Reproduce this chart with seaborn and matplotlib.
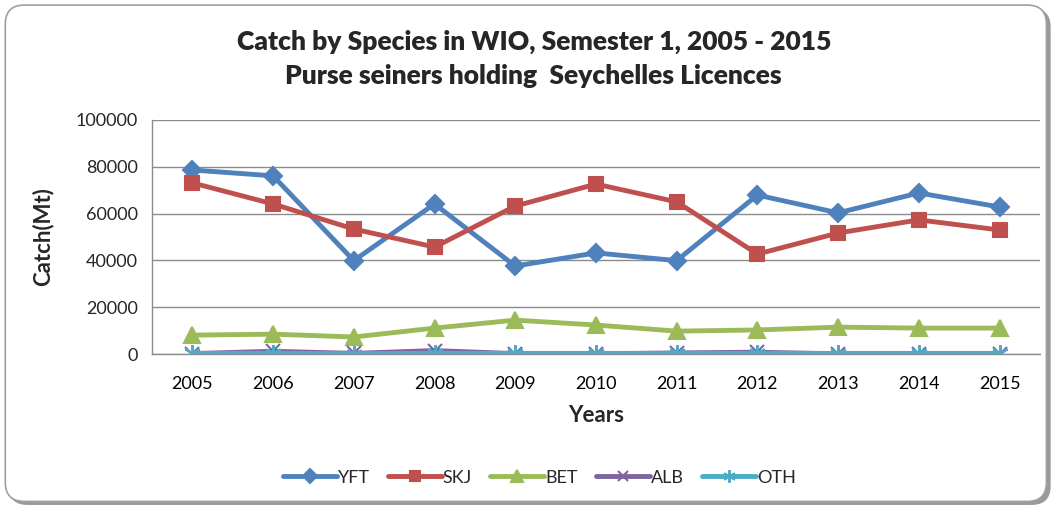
import numpy as np
import pandas as pd
import matplotlib
matplotlib.use("Agg")
import matplotlib.pyplot as plt
import seaborn as sns
from matplotlib.patches import FancyBboxPatch
from matplotlib.ticker import FixedLocator, NullFormatter

years = ["2005", "2006", "2007", "2008", "2009", "2010", "2011", "2012", "2013", "2014", "2015"]
yft = [78600, 76100, 39900, 64100, 37600, 43200, 39900, 67900, 60300, 68800, 62800]
skj = [73100, 64100, 53400, 45700, 63200, 72600, 65000, 42700, 51700, 57300, 53000]
bet = [8100, 8500, 7300, 11100, 14500, 12400, 9800, 10300, 11500, 11100, 11100]
alb = [200, 1200, 300, 1500, 200, 100, 500, 800, 100, 100, 100]
oth = [300, 300, 200, 300, 300, 300, 300, 300, 300, 300, 300]
species = ["YFT", "SKJ", "BET", "ALB", "OTH"]

sns.set_style("white")
plt.rcParams['font.family'] = ['Lato', 'DejaVu Sans']

palette = {"YFT": "#4F81BD", "SKJ": "#C0504D", "BET": "#9BBB59", "ALB": "#8064A2", "OTH": "#4BACC6"}
markers = {"YFT": "D", "SKJ": "s", "BET": "^", "ALB": "x", "OTH": (6, 2, 0)}
msizes = {"YFT": 9, "SKJ": 10, "BET": 11, "ALB": 10, "OTH": 12}

fig = plt.figure(figsize=(10.57, 5.08), dpi=100)
shadow = FancyBboxPatch((0.008, 0.006), 0.986, 0.978, boxstyle="round,pad=0,rounding_size=0.018",
                        transform=fig.transFigure, facecolor="#9a9a9a", edgecolor="none",
                        zorder=-11, mutation_aspect=1057/508)
frame = FancyBboxPatch((0.005, 0.013), 0.985, 0.977, boxstyle="round,pad=0,rounding_size=0.018",
                       transform=fig.transFigure, facecolor="white", edgecolor="#a0a0a0",
                       linewidth=1.2, zorder=-10, mutation_aspect=1057/508)
fig.patches.append(shadow)
fig.patches.append(frame)

ax = fig.add_axes([0.1438, 0.303, 0.840, 0.461])
ax.set_facecolor("none")
for name, vals in zip(species, [yft, skj, bet, alb, oth]):
    d = pd.DataFrame({"pos": np.arange(len(years)), "Catch": vals})
    sns.lineplot(data=d, x="pos", y="Catch", color=palette[name], marker=markers[name],
                 markersize=msizes[name], markeredgewidth=1.5, markeredgecolor=palette[name],
                 linewidth=3.5, ax=ax, label=name)

ax.set_xlim(-0.5, 10.5)
ax.set_ylim(0, 100000)
ax.set_yticks(np.arange(0, 100001, 20000))
ax.yaxis.grid(True, color="#8c8c8c", linewidth=1)
ax.set_xticks(range(len(years)))
ax.set_xticklabels(years)
ax.xaxis.set_minor_locator(FixedLocator(np.arange(-0.5, 10.6, 1)))
ax.xaxis.set_minor_formatter(NullFormatter())
ax.tick_params(axis="x", which="major", length=0, labelsize=13, pad=16, colors="black")
ax.tick_params(axis="x", which="minor", length=6, width=1, color="#8c8c8c", direction="out")
ax.tick_params(axis="y", length=6, width=1, color="#8c8c8c", direction="out", labelsize=13, pad=4)
for s in ["top", "right"]:
    ax.spines[s].set_visible(False)
for s in ["left", "bottom"]:
    ax.spines[s].set_color("#8c8c8c")
    ax.spines[s].set_linewidth(1)
ax.set_xlabel("Years", fontsize=16, fontweight="bold", labelpad=9)
ax.set_ylabel("Catch(Mt)", fontsize=16, fontweight="bold", labelpad=16)

fig.text(0.505, 0.917, "Catch by Species in WIO, Semester 1, 2005 - 2015", ha="center", va="center",
         fontsize=19, fontweight="heavy")
fig.text(0.505, 0.85, "Purse seiners holding  Seychelles Licences", ha="center", va="center",
         fontsize=19, fontweight="heavy")

handles, labels = ax.get_legend_handles_labels()
ax.get_legend().remove()
fig.legend(handles, labels, loc="center", bbox_to_anchor=(0.51, 0.06), ncol=5, frameon=False,
           fontsize=13, handlelength=3.0, handletextpad=0.05, columnspacing=1.0, markerscale=0.75)

fig.savefig("out.png", dpi=100)
